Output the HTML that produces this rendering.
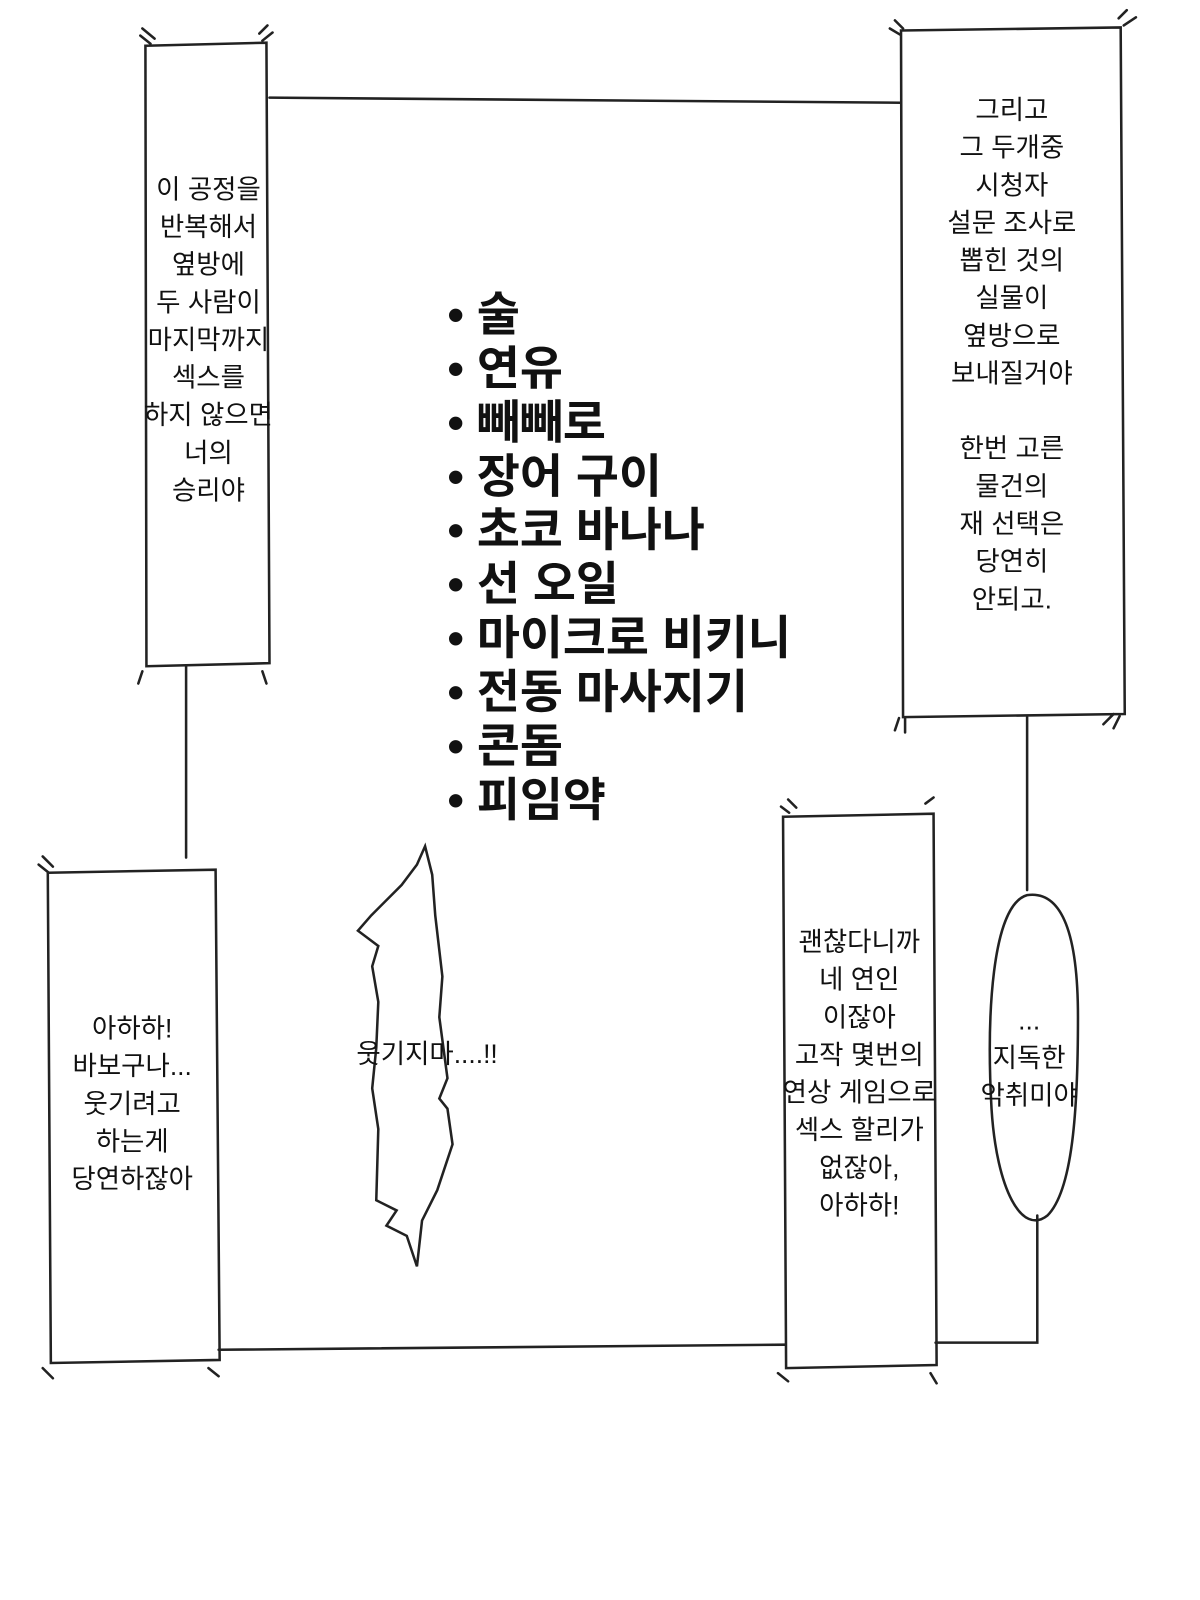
<!DOCTYPE html>
<html><head><meta charset="utf-8"><style>
html,body{margin:0;padding:0;background:#fff;}
svg{display:block}
text{font-family:"Liberation Sans","Noto Sans CJK KR",sans-serif;fill:#111}
</style></head><body>
<svg width="1200" height="1600" viewBox="0 0 1180 1573" preserveAspectRatio="none" xmlns="http://www.w3.org/2000/svg">
<g fill="none" stroke="#222" stroke-width="2.5" stroke-linecap="round">
<path d="M265 96 L886 101"/>
<path d="M183 655 L183 843"/>
<path d="M1010 705 L1010 875"/>
<path d="M215 1327 L772 1322"/>
<path d="M1020 1195 L1020 1320 L920 1320"/>
<path d="M143 45 L262 42 L265 652 L144 655 Z"/>
<path d="M886 30 L1102 27 L1106 702 L888 705 Z"/>
<path d="M47 858 L212 855 L216 1337 L50 1340 Z"/>
<path d="M770 803 L918 800 L921 1342 L773 1345 Z"/>
<path d="M1010 880 C1045 875 1060 920 1060 1000 C1060 1090 1055 1170 1030 1195 C1005 1215 980 1170 975 1090 C970 1000 975 890 1010 880 Z"/>
<path d="M418 832 L410 850 L395 870 L365 900 L352 915 L372 930 L366 950 L372 985 L370 1030 L366 1070 L372 1110 L370 1180 L390 1190 L380 1205 L400 1215 L410 1245 L415 1200 L430 1170 L445 1125 L440 1090 L432 1080 L440 1060 L432 1000 L435 960 L428 900 L425 860 Z"/>
<path d="M138 35 l10 8 M140 28 l12 10 M255 33 l8 -8 M258 40 l10 -8 M880 20 l8 8 M875 28 l10 6 M1100 18 l8 -8 M1105 25 l12 -8 M880 718 l4 -12 M890 720 l0 -14 M1085 712 l10 -10 M1095 716 l6 -12 M38 850 l10 8 M42 842 l10 10 M768 793 l8 6 M775 786 l8 8 M910 790 l8 -6 M42 1345 l10 10 M205 1345 l10 8 M765 1350 l10 8 M915 1350 l6 10 M140 660 l-4 12 M258 660 l4 12"/>
</g>
<g font-size="26" text-anchor="middle">
<text x="205" y="195">이 공정을</text>
<text x="205" y="232">반복해서</text>
<text x="205" y="269">옆방에</text>
<text x="205" y="306">두 사람이</text>
<text x="205" y="343">마지막까지</text>
<text x="205" y="380">섹스를</text>
<text x="205" y="417">하지 않으면</text>
<text x="205" y="454">너의</text>
<text x="205" y="491">승리야</text>

<text x="995" y="117">그리고</text>
<text x="995" y="154">그 두개중</text>
<text x="995" y="191">시청자</text>
<text x="995" y="228">설문 조사로</text>
<text x="995" y="265">뽑힌 것의</text>
<text x="995" y="302">실물이</text>
<text x="995" y="339">옆방으로</text>
<text x="995" y="376">보내질거야</text>
<text x="995" y="450">한번 고른</text>
<text x="995" y="487">물건의</text>
<text x="995" y="524">재 선택은</text>
<text x="995" y="561">당연히</text>
<text x="995" y="598">안되고.</text>

<text x="130" y="1020">아하하!</text>
<text x="130" y="1057">바보구나...</text>
<text x="130" y="1094">웃기려고</text>
<text x="130" y="1131">하는게</text>
<text x="130" y="1168">당연하잖아</text>

<text x="845" y="935">괜찮다니까</text>
<text x="845" y="972">네 연인</text>
<text x="845" y="1009">이잖아</text>
<text x="845" y="1046">고작 몇번의</text>
<text x="845" y="1083">연상 게임으로</text>
<text x="845" y="1120">섹스 할리가</text>
<text x="845" y="1157">없잖아,</text>
<text x="845" y="1194">아하하!</text>

<text x="1012" y="1012">...</text>
<text x="1012" y="1049">지독한</text>
<text x="1012" y="1086">악취미야</text>

<text x="420" y="1045">웃기지마....!!</text>
</g>
<g font-size="46" font-weight="bold">
<text x="440" y="325">• 술</text>
<text x="440" y="378">• 연유</text>
<text x="440" y="431">• 빼빼로</text>
<text x="440" y="484">• 장어 구이</text>
<text x="440" y="537">• 초코 바나나</text>
<text x="440" y="590">• 선 오일</text>
<text x="440" y="643">• 마이크로 비키니</text>
<text x="440" y="696">• 전동 마사지기</text>
<text x="440" y="749">• 콘돔</text>
<text x="440" y="802">• 피임약</text>
</g>
</svg>
</body></html>
